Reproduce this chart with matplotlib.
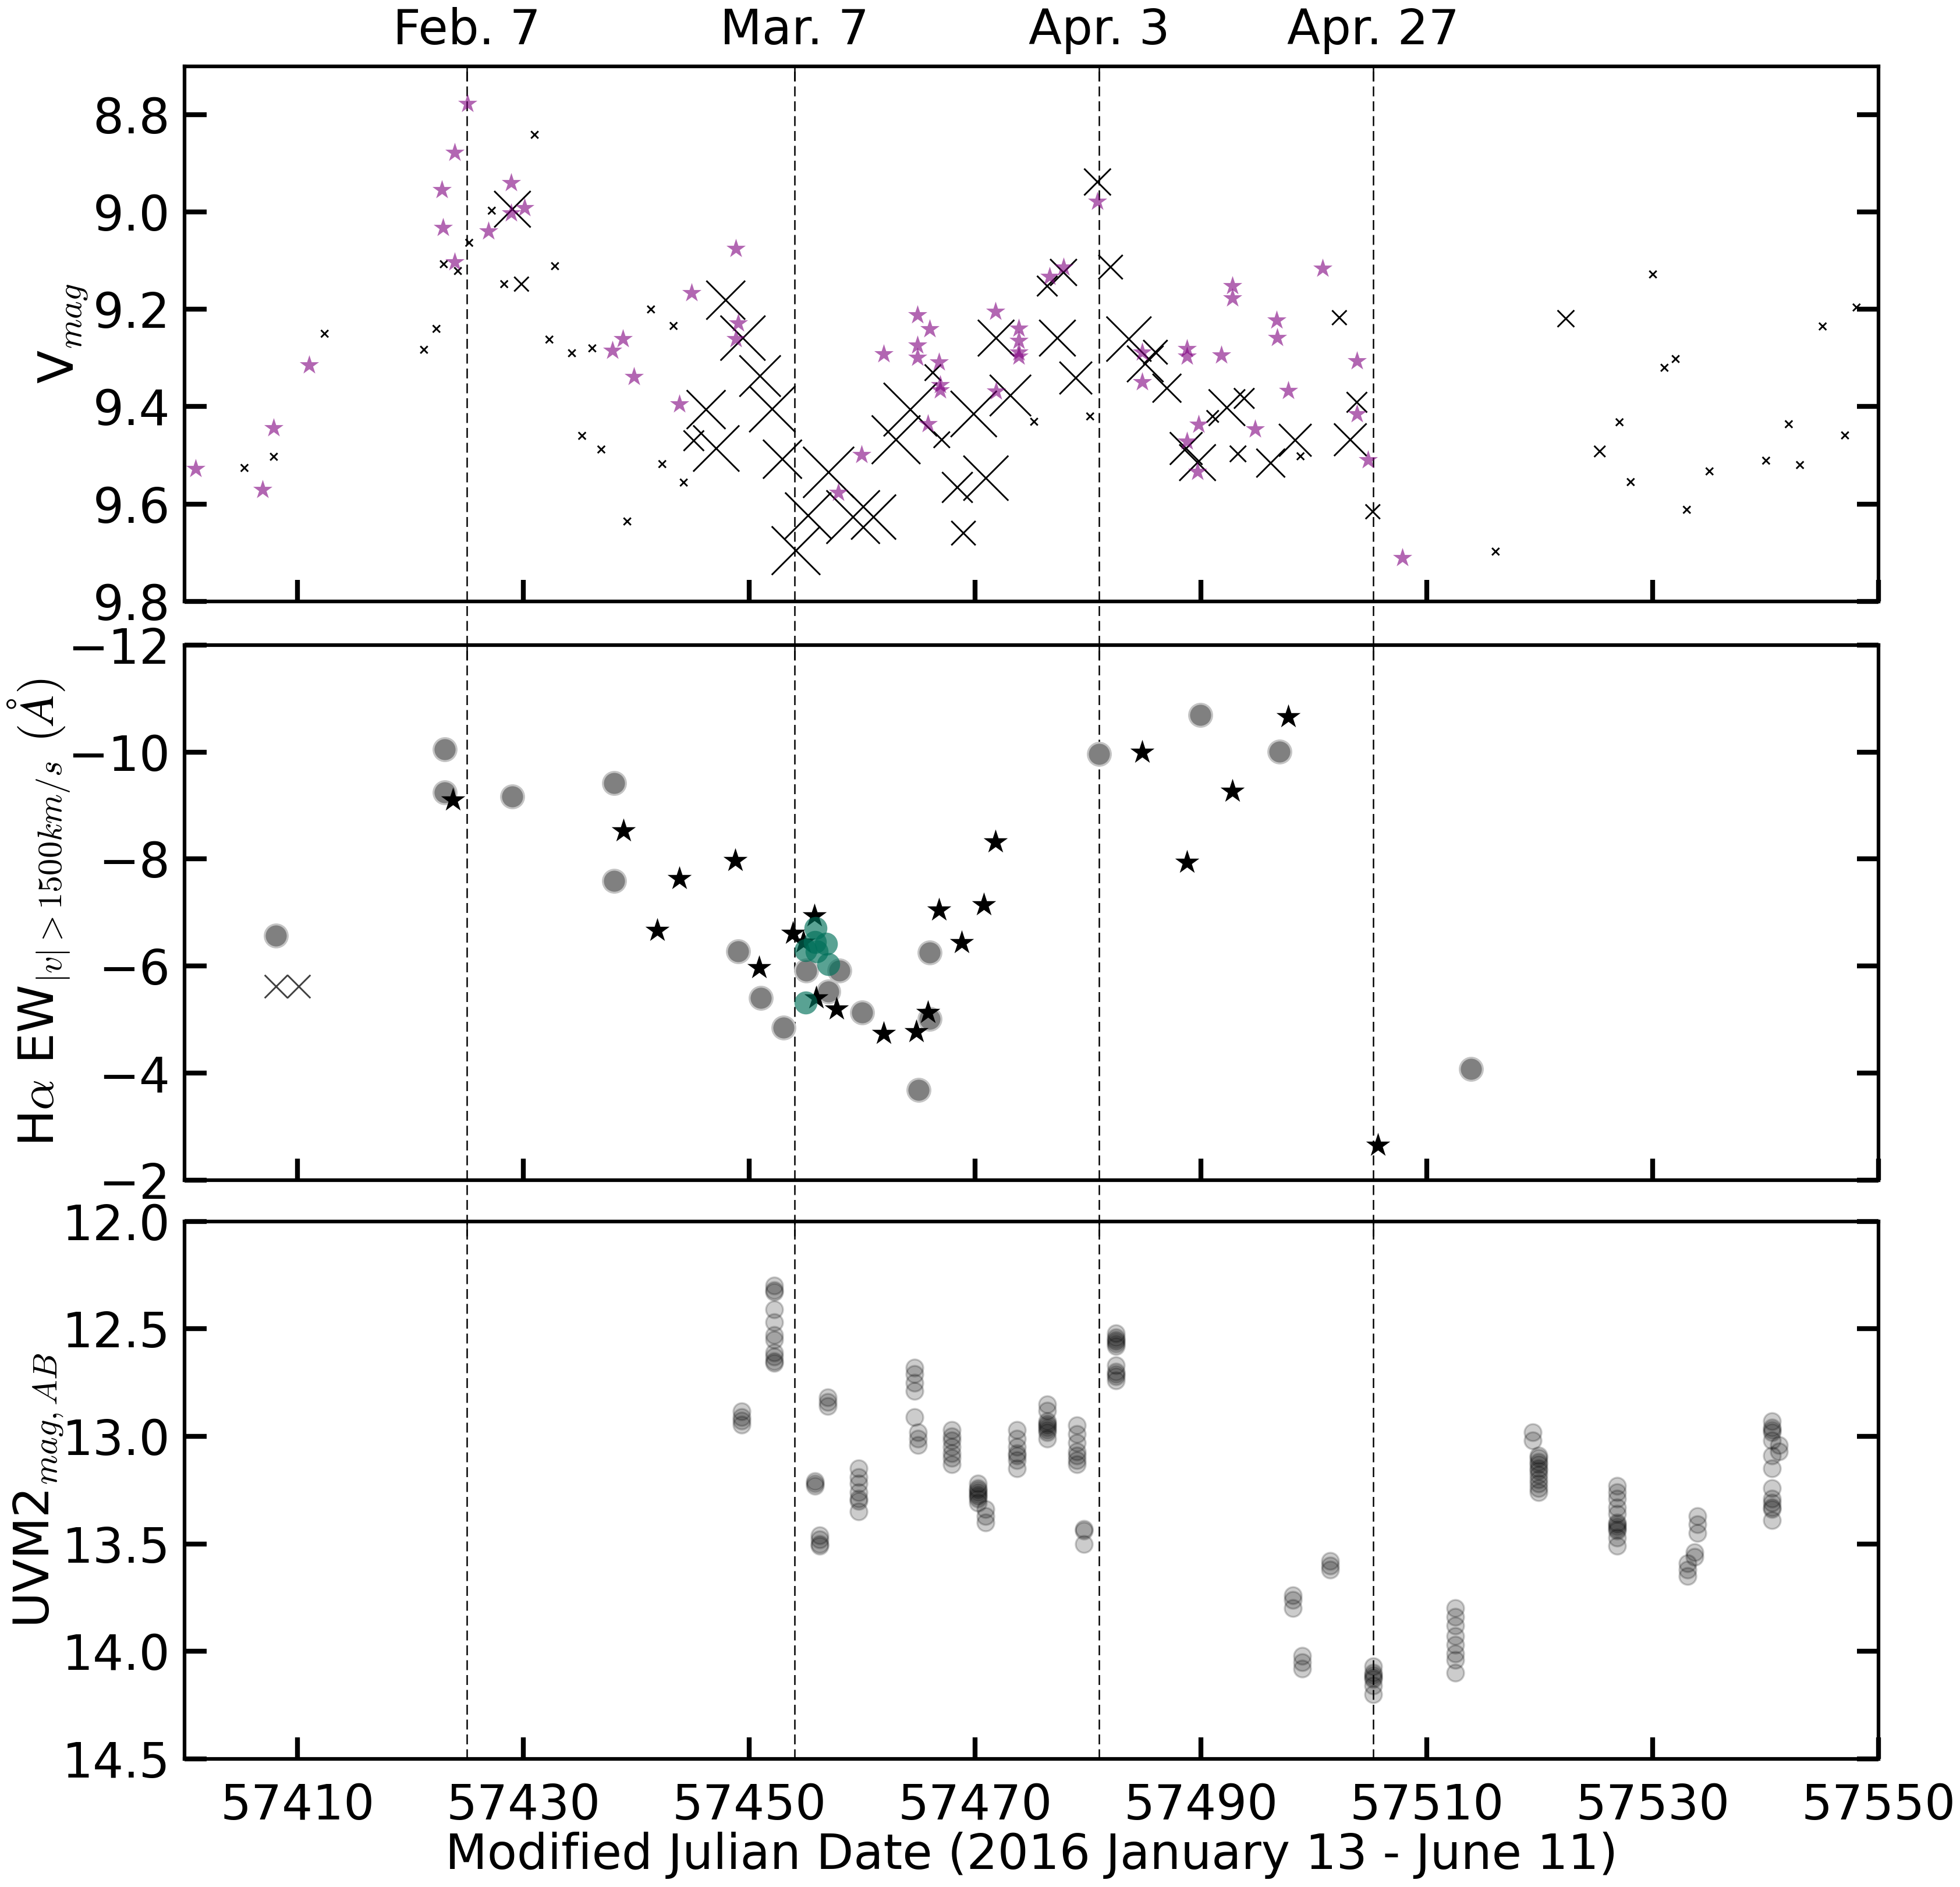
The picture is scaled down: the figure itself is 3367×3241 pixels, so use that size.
import numpy as np
import matplotlib.pyplot as plt

plt.rcParams['mathtext.fontset'] = 'cm'
plt.rcParams['font.family'] = 'DejaVu Sans'

# ---------------- top panel: V magnitude ----------------
v_star_mjd = [57400.95, 57406.9, 57407.9, 57411.0, 57422.8, 57422.9, 57423.9, 57423.9,
              57425.05, 57426.9, 57428.9, 57428.9, 57430.1, 57438.8, 57437.9, 57439.8,
              57443.8, 57444.9, 57448.8, 57449.0, 57448.8,
              57459.93, 57457.86, 57461.92, 57464.88, 57465.97, 57464.88, 57464.88,
              57466.8, 57466.91, 57466.91, 57465.82, 57471.79, 57471.87, 57473.85,
              57473.85, 57473.85, 57473.85, 57476.57, 57477.83, 57480.84, 57484.78,
              57484.78, 57488.76, 57488.76, 57489.77, 57488.76, 57489.7, 57491.8,
              57492.78, 57492.78, 57494.77, 57496.72, 57496.76, 57497.73, 57500.77,
              57503.81, 57503.81, 57504.8, 57507.86]
v_star_mag = [9.528, 9.571, 9.444, 9.315, 8.954, 9.032, 8.878, 9.103,
              8.777, 9.039, 8.940, 9.002, 8.991, 9.261, 9.284, 9.338,
              9.395, 9.166, 9.075, 9.228, 9.261,
              9.499, 9.577, 9.292, 9.211, 9.240, 9.274, 9.299,
              9.308, 9.355, 9.366, 9.435, 9.204, 9.368, 9.239,
              9.264, 9.288, 9.297, 9.132, 9.113, 8.978, 9.288,
              9.349, 9.281, 9.297, 9.437, 9.471, 9.533, 9.294,
              9.152, 9.177, 9.446, 9.222, 9.258, 9.367, 9.116,
              9.306, 9.415, 9.510, 9.711]

v_x_mjd = [57405.3, 57407.9, 57412.4, 57421.2, 57422.3, 57422.95, 57424.2, 57425.2,
           57427.2, 57428.3, 57431.0, 57432.8, 57432.3, 57434.3, 57436.1, 57435.2,
           57436.9, 57439.2, 57441.3, 57443.3, 57442.3, 57444.2,
           57475.23, 57480.19, 57498.82,
           57516.1, 57530.03, 57531.05, 57532.04, 57527.07, 57528.06, 57533.03,
           57535.04, 57540.05, 57542.06, 57543.05, 57545.06, 57547.04, 57548.06,
           57429.03, 57429.83, 57447.92, 57449.44, 57450.96, 57452.04, 57446.18,
           57447.08, 57445.09,
           57452.94, 57454.14, 57457.03, 57455.22, 57459.2, 57461.01, 57463.0,
           57464.27, 57466.26, 57467.05, 57469.88, 57468.43, 57470.96, 57468.97,
           57471.86, 57473.13, 57477.29, 57476.39, 57477.83, 57478.92, 57480.84,
           57482.0, 57483.62, 57485.07, 57485.97, 57486.99, 57488.69, 57489.7,
           57491.04, 57492.3, 57493.83, 57493.28, 57496.18, 57498.35, 57502.26,
           57503.81, 57503.23, 57505.22, 57522.32, 57525.32]
v_x_mag = [9.526, 9.503, 9.250, 9.283, 9.240, 9.107, 9.121, 9.063,
           8.997, 9.148, 8.841, 9.111, 9.262, 9.290, 9.280, 9.460,
           9.488, 9.636, 9.200, 9.234, 9.518, 9.556,
           9.431, 9.420, 9.502,
           9.698, 9.128, 9.320, 9.302, 9.432, 9.555, 9.612,
           9.533, 9.511, 9.436, 9.520, 9.235, 9.459, 9.196,
           8.994, 9.148, 9.181, 9.259, 9.337, 9.405, 9.406,
           9.486, 9.470,
           9.508, 9.696, 9.535, 9.624, 9.627, 9.627, 9.468,
           9.406, 9.330, 9.468, 9.415, 9.566, 9.547, 9.660,
           9.259, 9.377, 9.259, 9.152, 9.124, 9.341, 8.938,
           9.113, 9.261, 9.312, 9.288, 9.362, 9.486, 9.515,
           9.420, 9.402, 9.383, 9.497, 9.516, 9.469, 9.217,
           9.391, 9.468, 9.616, 9.219, 9.492]
v_x_size = [3] * 39 + [15, 6, 16, 18.5, 17, 19, 16, 19, 8.4,
                       16, 20, 21, 19, 22, 18.5, 20,
                       22, 6.7, 6.7, 19, 12.6, 18.5, 10,
                       15, 17, 15, 8.4, 11, 13.4, 11,
                       10, 18.5, 15, 10, 11.8, 13.4, 15,
                       5, 15, 8.4, 6.7, 11.8, 13.4, 6,
                       8.4, 13.4, 6, 6.9, 4.6]

# ---------------- middle panel: H-alpha EW ----------------
ew_gray_mjd = [57408.08, 57423.02, 57423.02, 57429.03, 57438.04, 57438.04, 57449.0,
               57451.03, 57453.05, 57455.04, 57458.01, 57457.03, 57460.0, 57465.97,
               57465.97, 57464.99, 57480.98, 57489.95, 57496.94, 57513.9]
ew_gray = [-6.566, -10.05, -9.243, -9.171, -9.414, -7.586, -6.276,
           -5.408, -4.855, -5.921, -5.921, -5.526, -5.132, -6.257,
           -5.013, -3.684, -9.967, -10.69, -10.01, -4.08]

ew_star_mjd = [57423.75, 57438.87, 57443.83, 57448.78, 57441.84, 57450.88, 57453.88,
               57454.77, 57455.77, 57455.9, 57457.75, 57461.92, 57464.81, 57465.82,
               57466.8, 57468.79, 57470.78, 57471.79, 57484.78, 57492.78, 57488.76,
               57497.73, 57505.69]
ew_star = [-9.099, -8.526, -7.632, -7.967, -6.664, -5.974, -6.61,
           -6.45, -6.941, -5.40, -5.197, -4.737, -4.770, -5.132,
           -7.046, -6.434, -7.145, -8.316, -10.0, -9.263, -7.934,
           -10.66, -2.651]

ew_teal_mjd = [57455.87, 57456.78, 57455.95, 57454.97, 57454.97, 57457.03, 57455.8]
ew_teal = [-6.711, -6.421, -6.27, -6.30, -5.316, -6.033, -6.45]

ew_x_mjd = [57408.1, 57410.1]
ew_x = [-5.625, -5.625]

# ---------------- bottom panel: UVM2 ----------------
uv_visit_mjd = [57449.3, 57452.2, 57455.83, 57456.23, 57456.95, 57459.69, 57464.63,
                57464.93, 57467.96, 57470.23, 57470.92, 57473.69, 57476.39, 57479.03,
                57479.62, 57482.45, 57498.13, 57498.98, 57501.42, 57505.27, 57512.55,
                57519.4, 57519.9, 57526.88, 57533.08, 57533.7, 57533.98, 57540.57,
                57541.2]
uv_visit_mags = [
    [12.883, 12.911, 12.927, 12.946],
    [12.30, 12.32, 12.33, 12.41, 12.47, 12.53, 12.55, 12.61, 12.63, 12.65, 12.66],
    [13.21, 13.22, 13.23],
    [13.46, 13.48, 13.50, 13.51],
    [12.82, 12.84, 12.86],
    [13.15, 13.19, 13.22, 13.26, 13.29, 13.30, 13.35],
    [12.68, 12.71, 12.75, 12.79, 12.91],
    [12.98, 13.01, 13.04],
    [12.97, 13.00, 13.02, 13.05, 13.08, 13.10, 13.13],
    [13.22, 13.24, 13.25, 13.26, 13.27, 13.28, 13.29, 13.31],
    [13.34, 13.37, 13.40],
    [12.97, 13.01, 13.05, 13.08, 13.09, 13.11, 13.15],
    [12.85, 12.88, 12.93, 12.94, 12.95, 12.96, 12.97, 12.98, 13.01],
    [12.95, 12.99, 13.03, 13.07, 13.09, 13.11, 13.13],
    [13.43, 13.44, 13.50],
    [12.52, 12.54, 12.55, 12.56, 12.57, 12.58, 12.67, 12.70, 12.71, 12.72, 12.74],
    [13.74, 13.76, 13.80],
    [14.02, 14.05, 14.08],
    [13.58, 13.60, 13.62],
    [14.07, 14.10, 14.11, 14.12, 14.13, 14.16, 14.20],
    [13.80, 13.84, 13.88, 13.93, 13.97, 14.01, 14.04, 14.10],
    [12.98, 13.02],
    [13.09, 13.10, 13.12, 13.13, 13.15, 13.16, 13.18, 13.20, 13.22, 13.24, 13.26],
    [13.23, 13.26, 13.29, 13.33, 13.36, 13.40, 13.41, 13.42, 13.43, 13.44, 13.47, 13.51],
    [13.59, 13.62, 13.65],
    [13.54, 13.56],
    [13.37, 13.41, 13.45],
    [12.93, 12.96, 12.97, 12.98, 13.02, 13.09, 13.15, 13.24, 13.29, 13.31, 13.33, 13.34, 13.39],
    [13.04, 13.07],
]

date_mjd = [57425.0, 57454.0, 57481.0, 57505.25]
date_labels = ['Feb. 7', 'Mar. 7', 'Apr. 3', 'Apr. 27']

uv_mjd = np.concatenate([[m] * len(v) for m, v in zip(uv_visit_mjd, uv_visit_mags)])
uv_mag = np.concatenate(uv_visit_mags)

fs = 20
fig = plt.figure(figsize=(3367 / 300, 3241 / 300), dpi=300)
left, width = 0.0942, 0.8642
bottoms = [0.6814, 0.3746, 0.0679]
tops = [0.9649, 0.6582, 0.3528]

# background axes for the dashed date lines running through all panels
bg = fig.add_axes([left, bottoms[2], width, tops[0] - bottoms[2]], zorder=-1)
bg.set_xlim(57400, 57550)
bg.set_ylim(0, 1)
bg.axis('off')
bg.vlines(date_mjd, 0, 1, colors='k', linewidth=0.6, linestyles=[(0, (6.8, 3.4))])

axes = []
for b, t in zip(bottoms, tops):
    ax = fig.add_axes([left, b, width, t - b])
    ax.set_facecolor('none')
    ax.set_xlim(57400, 57550)
    ax.set_xticks(np.arange(57410, 57551, 20))
    ax.ticklabel_format(useOffset=False, style='plain')
    ax.tick_params(direction='in', length=9, width=2, labelsize=fs, top=False,
                   right=True, pad=6)
    ax.tick_params(axis='x', pad=9.5)
    for s in ax.spines.values():
        s.set_linewidth(1.5)
    tw = ax.twiny()
    tw.set_xlim(57400, 57550)
    tw.set_xticks(date_mjd)
    tw.set_xticklabels(date_labels if b == bottoms[0] else [])
    tw.tick_params(direction='in', length=6, width=0.6, labelsize=fs, pad=5)
    for s in tw.spines.values():
        s.set_visible(False)
    axes.append(ax)

ax1, ax2, ax3 = axes

# top
ax1.scatter(v_x_mjd, v_x_mag, s=np.array(v_x_size) ** 2, marker='x', c='k',
            linewidths=0.7)
ax1.scatter(v_star_mjd, v_star_mag, s=70, marker='*', color='purple', alpha=0.6,
            linewidths=0)
ax1.set_ylim(9.8, 8.7)
ax1.set_yticks(np.arange(8.8, 9.81, 0.2))
ax1.set_yticklabels(['%.1f' % v for v in np.arange(8.8, 9.81, 0.2)])
ax1.tick_params(labelbottom=False)
ax1.set_ylabel(r'V$_{mag}$', fontsize=fs, labelpad=1.5)

# middle
ax2.scatter(ew_x_mjd, ew_x, s=9.5 ** 2, marker='x', c='#404040', linewidths=0.7)
ax2.scatter(ew_gray_mjd, ew_gray, s=90, color='#808080', edgecolors='#c4c4c4',
            linewidths=0.8)
ax2.scatter(ew_star_mjd, ew_star, s=110, marker='*', color='k', linewidths=0)
ax2.scatter(ew_teal_mjd, ew_teal, s=90, color='#00705a', alpha=0.65, linewidths=0)
ax2.set_ylim(-2, -12)
ax2.set_yticks(np.arange(-12, -1, 2))
ax2.tick_params(labelbottom=False)
ax2.set_ylabel(r'H$\alpha$ EW$_{|v|>1500km/s}$ $(\AA)$', fontsize=fs, labelpad=-2)

# bottom
ax3.plot(uv_mjd, uv_mag, 'o', color='k', alpha=0.2, ms=7, mew=0.8)
ax3.set_ylim(14.5, 12.0)
ax3.set_yticks(np.arange(12.0, 14.51, 0.5))
ax3.set_yticklabels(['%.1f' % v for v in np.arange(12.0, 14.51, 0.5)])
ax3.set_ylabel(r'UVM2$_{mag,AB}$', fontsize=fs, labelpad=-1)
ax3.set_xlabel('Modified Julian Date (2016 January 13 - June 11)', fontsize=fs,
               labelpad=1)

plt.savefig('out.png', dpi=300)
